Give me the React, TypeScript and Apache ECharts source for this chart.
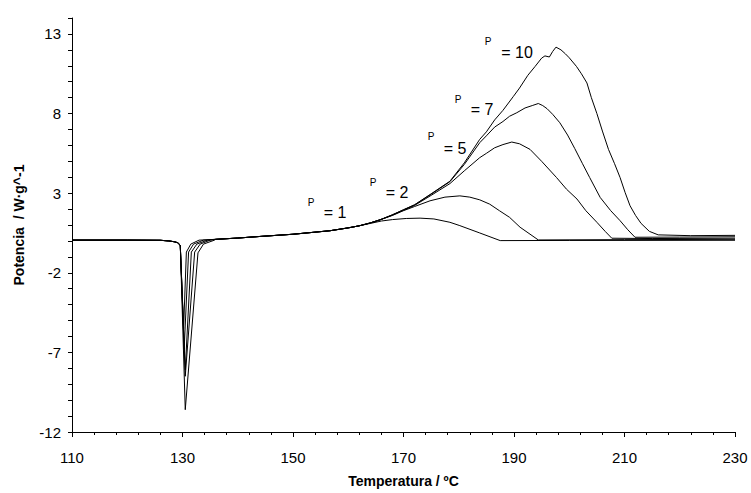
import React, { useEffect, useRef } from "react";
import * as echarts from "echarts";

// [temperature ºC, power W/g]
const beta1: number[][] = [
  [110, 0.05], [120, 0.05], [126, 0.04], [127.5, 0.0], [128.5, -0.05], [129.2, -0.12], [129.6, -0.3],
  [130.2, -5.5], [130.7, -0.7], [131.5, -0.2], [133, 0.05],
  [136, 0.1], [140, 0.18], [144, 0.28], [150, 0.42], [156.7, 0.64], [160, 0.82], [162, 0.95],
  [164, 1.1], [166, 1.25], [168, 1.34], [170.5, 1.41], [173, 1.43], [175.5, 1.38], [178.4, 1.17],
  [180.2, 0.96], [183.8, 0.5], [187.5, 0.02], [200, 0.03], [230, 0.04],
];
const beta2: number[][] = [
  [110, 0.05], [120, 0.05], [126, 0.04], [127.5, 0.0], [128.5, -0.05], [129.2, -0.12], [129.6, -0.3],
  [130.3, -6.8], [131.1, -0.7], [132.0, -0.2], [133.8, 0.05],
  [136, 0.1], [140, 0.18], [144, 0.28], [150, 0.42], [156.7, 0.64], [160, 0.82], [162, 0.95],
  [164, 1.13], [165.8, 1.33], [168, 1.6], [170, 1.9], [172, 2.16], [174.8, 2.52], [177.5, 2.75],
  [180.2, 2.83], [182, 2.75], [183.8, 2.58], [185.6, 2.31], [187.4, 1.89], [189.2, 1.48],
  [191.1, 0.86], [194.4, 0.06], [210, 0.08], [230, 0.1],
];
const beta5: number[][] = [
  [110, 0.05], [120, 0.05], [126, 0.04], [127.5, 0.0], [128.5, -0.05], [129.2, -0.12], [129.6, -0.3],
  [130.5, -8.1], [131.6, -0.7], [132.6, -0.2], [134.5, 0.05],
  [136, 0.1], [140, 0.18], [144, 0.28], [150, 0.42], [156.7, 0.64], [160, 0.82], [162, 0.95],
  [164, 1.13], [165.8, 1.33], [168, 1.62], [170, 1.93], [172, 2.23], [175, 2.86], [178.4, 3.6],
  [181, 4.4], [183.8, 5.23], [185, 5.5], [186.5, 5.85], [188, 6.05], [189.6, 6.21],
  [191, 6.1], [192.9, 5.75], [195, 5.0], [197.7, 3.98], [199.5, 3.25], [201.4, 2.63],
  [203, 1.9], [205, 1.17], [206.5, 0.6], [207.7, 0.17], [215, 0.15], [230, 0.17],
];
const beta7: number[][] = [
  [110, 0.05], [120, 0.05], [126, 0.04], [127.5, 0.0], [128.5, -0.05], [129.2, -0.12], [129.6, -0.3],
  [130.5, -8.5], [132.2, -0.7], [133.2, -0.2], [135, 0.05],
  [136, 0.1], [140, 0.18], [144, 0.28], [150, 0.42], [156.7, 0.64], [160, 0.82], [162, 0.95],
  [164, 1.13], [165.8, 1.33], [168, 1.64], [170, 1.95], [172, 2.26], [175, 2.93], [178.4, 3.72],
  [181, 4.8], [183.8, 6.17], [185, 6.6], [186.5, 7.15], [188, 7.5], [189.2, 7.83],
  [190.5, 8.05], [192, 8.35], [193.3, 8.5], [194.4, 8.63], [195.2, 8.5], [196, 8.3],
  [197, 7.95], [198.3, 7.42], [199.7, 6.65], [201, 5.8], [202.4, 4.85], [203.7, 3.98],
  [205.6, 2.73], [207.5, 1.9], [209.2, 1.27], [210.6, 0.7], [211.9, 0.23], [220, 0.24],
  [230, 0.26],
];
const beta10: number[][] = [
  [110, 0.05], [120, 0.05], [126, 0.04], [127.5, 0.0], [128.5, -0.05], [129.2, -0.12], [129.6, -0.3],
  [130.5, -10.6], [132.8, -0.75], [133.8, -0.2], [135.8, 0.05],
  [136, 0.1], [140, 0.18], [144, 0.28], [150, 0.42], [156.7, 0.64], [160, 0.82], [162, 0.95],
  [164, 1.13], [165.8, 1.33], [168, 1.64], [170, 1.96], [172, 2.27], [175, 2.96], [178.4, 3.75],
  [181, 4.9], [183.8, 6.38], [185, 6.85], [186.5, 7.6], [188, 8.2], [189.9, 9.08],
  [191, 9.6], [192.5, 10.4], [193.8, 10.95], [195, 11.48], [195.6, 11.62], [196.4, 11.55],
  [197, 11.9], [197.6, 12.17], [198.5, 12.0], [199.3, 11.75], [200, 11.5], [201.3, 10.96],
  [202.2, 10.5], [203.2, 9.92], [204, 9.0], [205, 8.0], [206, 6.9], [207.1, 5.75],
  [208.2, 4.85], [209.2, 3.98], [210.1, 3.05], [211, 2.21], [212, 1.6], [213, 1.1],
  [214.5, 0.6], [216.1, 0.38], [222, 0.33], [230, 0.35],
];

const seriesNames = ["β = 1", "β = 2", "β = 5", "β = 7", "β = 10"];
const seriesData = [beta1, beta2, beta5, beta7, beta10];
const labelTexts = ["= 1", "= 2", "= 5", "= 7", "= 10"];
const labelPos = [
  [335, 212], [397, 192], [455, 148], [482, 109], [517, 52],
];
const markPos = [
  [311, 202], [373, 182], [431, 136], [458, 99], [488, 41],
];

const FONT = "'Liberation Sans', Arial, sans-serif";

export default function App() {
  const ref = useRef<HTMLDivElement>(null);
  useEffect(() => {
    document.body.style.margin = "0";
    if (!ref.current) return;
    const chart = echarts.init(ref.current, null, { renderer: "svg" });
    const graphics: any[] = [];
    labelTexts.forEach((t, i) => {
      graphics.push({
        type: "text",
        x: labelPos[i][0],
        y: labelPos[i][1],
        style: {
          text: t, fontSize: 16, fontFamily: FONT, fill: "#000000",
          textAlign: "center", textVerticalAlign: "middle",
        },
      });
      graphics.push({
        type: "text",
        x: markPos[i][0],
        y: markPos[i][1],
        style: {
          text: "P", fontSize: 10, fontFamily: FONT, fill: "#000000",
          textAlign: "center", textVerticalAlign: "middle",
        },
      });
    });
    chart.setOption({
      animation: false,
      backgroundColor: "#fff",
      grid: { left: 72, right: 16, top: 18, bottom: 59, containLabel: false },
      xAxis: {
        type: "value",
        min: 110,
        max: 230,
        interval: 20,
        name: "Temperatura / ºC",
        nameLocation: "middle",
        nameGap: 42,
        nameTextStyle: { fontSize: 14, fontWeight: "bold", fontFamily: FONT, color: "#000" },
        axisLine: { show: true, onZero: false, lineStyle: { color: "#000", width: 1 } },
        axisTick: { show: true, inside: false, length: 5, lineStyle: { color: "#000" } },
        minorTick: { show: true, splitNumber: 5, length: 3, lineStyle: { color: "#000" } },
        splitLine: { show: false },
        axisLabel: { fontSize: 15, fontFamily: FONT, color: "#000", margin: 18 },
      },
      yAxis: {
        type: "value",
        min: -12,
        max: 14,
        interval: 1,
        name: "Potencia  / W·g^-1",
        nameLocation: "middle",
        nameGap: 46,
        nameTextStyle: { fontSize: 14, fontWeight: "bold", fontFamily: FONT, color: "#000" },
        axisLine: { show: true, onZero: false, lineStyle: { color: "#000", width: 1 } },
        axisTick: { show: true, inside: false, length: 4, lineStyle: { color: "#000" } },
        splitLine: { show: false },
        axisLabel: {
          fontSize: 15, fontFamily: FONT, color: "#000", margin: 11,
          formatter: (v: number) => (((Math.round(v) + 12) % 5 === 0 && v <= 13) ? String(Math.round(v)) : ""),
        },
      },
      series: seriesData.map((d, i) => ({
        name: seriesNames[i],
        type: "line",
        data: d,
        showSymbol: false,
        symbol: "none",
        smooth: false,
        lineStyle: { color: "#000", width: 1 },
      })),
      graphic: graphics,
    });
    return () => chart.dispose();
  }, []);
  return (
    <div
      ref={ref}
      style={{ position: "absolute", left: 0, top: 0, width: 751, height: 493 }}
    />
  );
}
